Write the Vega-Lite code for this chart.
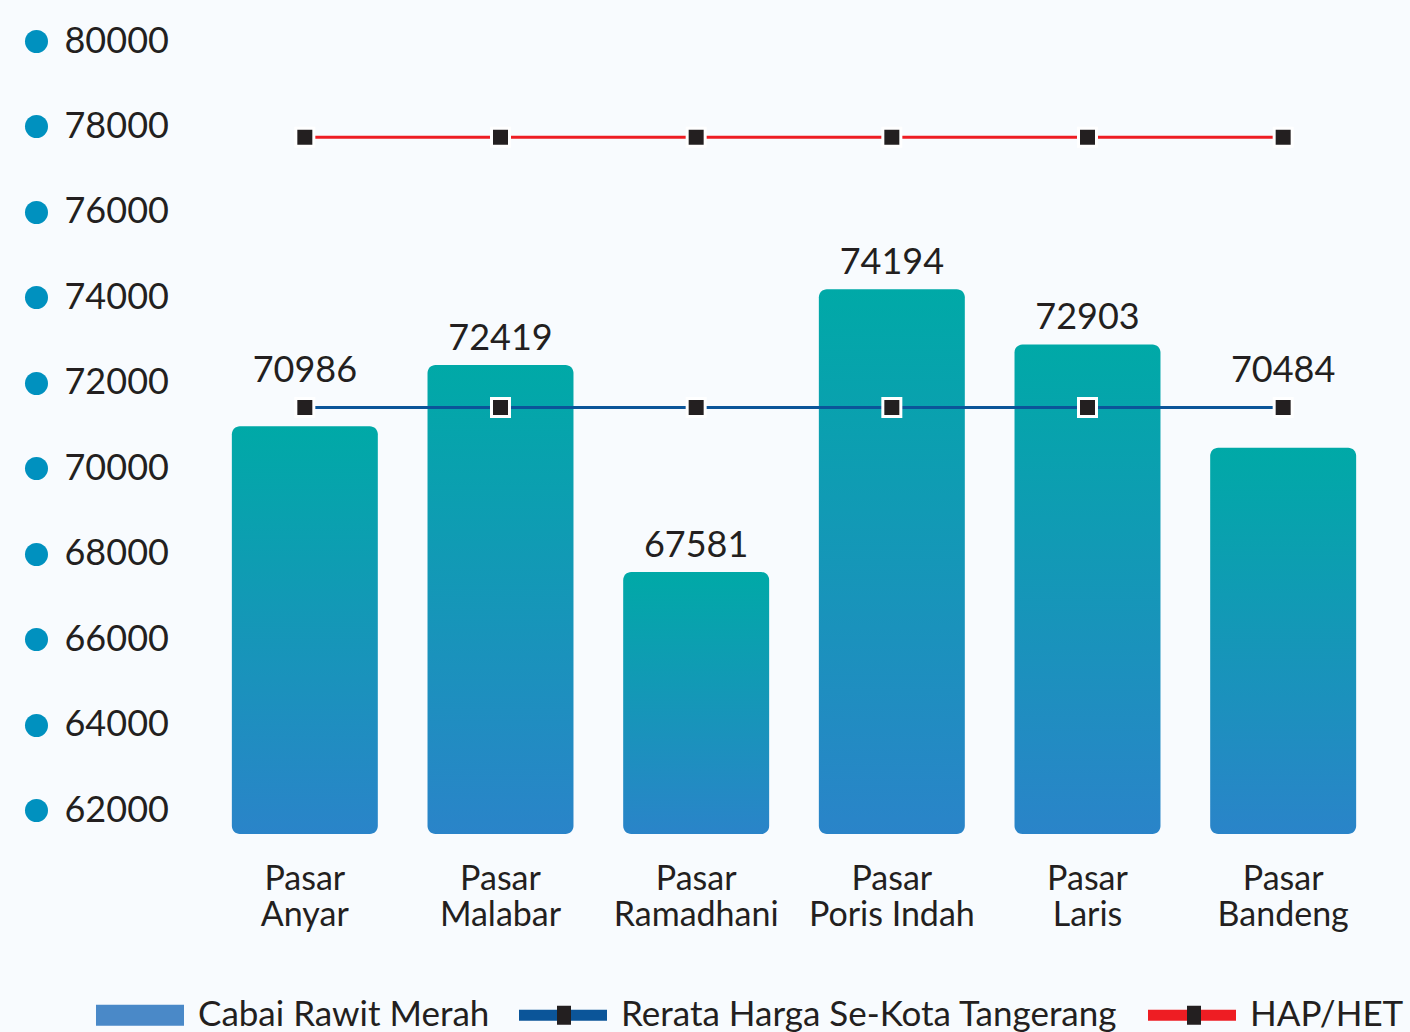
{
  "$schema": "https://vega.github.io/schema/vega-lite/v6.json",
  "width": 1174,
  "height": 793,
  "autosize": {"type": "none"},
  "padding": {"left": 207, "top": 41, "right": 29, "bottom": 198},
  "background": "#f8fbfe",
  "config": {"view": {"stroke": null}, "font": "Lato"},
  "data": {
    "values": [
      {"pasar": "Pasar Anyar", "harga": 70986, "Rerata Harga Se-Kota Tangerang": 71428, "HAP/HET": 77750},
      {"pasar": "Pasar Malabar", "harga": 72419, "Rerata Harga Se-Kota Tangerang": 71428, "HAP/HET": 77750},
      {"pasar": "Pasar Ramadhani", "harga": 67581, "Rerata Harga Se-Kota Tangerang": 71428, "HAP/HET": 77750},
      {"pasar": "Pasar Poris Indah", "harga": 74194, "Rerata Harga Se-Kota Tangerang": 71428, "HAP/HET": 77750},
      {"pasar": "Pasar Laris", "harga": 72903, "Rerata Harga Se-Kota Tangerang": 71428, "HAP/HET": 77750},
      {"pasar": "Pasar Bandeng", "harga": 70484, "Rerata Harga Se-Kota Tangerang": 71428, "HAP/HET": 77750}
    ]
  },
  "encoding": {
    "x": {
      "field": "pasar",
      "type": "nominal",
      "sort": null,
      "scale": {"paddingInner": 0.254, "paddingOuter": 0.127},
      "axis": {
        "title": null,
        "domain": false,
        "ticks": false,
        "labelAngle": 0,
        "labelFont": "Lato",
        "labelFontSize": 34,
        "labelColor": "#231f20",
        "labelLineHeight": 36,
        "labelPadding": 28,
        "labelBaseline": "top",
        "labelExpr": "[slice(datum.label, 0, 5), slice(datum.label, 6)]"
      }
    }
  },
  "layer": [
    {
      "mark": {
        "type": "bar",
        "cornerRadius": 8,
        "color": {
          "gradient": "linear",
          "x1": 0, "y1": 0, "x2": 0, "y2": 1,
          "stops": [
            {"offset": 0, "color": "#00a9a7"},
            {"offset": 1, "color": "#2a84c9"}
          ]
        }
      },
      "encoding": {
        "y": {
          "field": "harga",
          "type": "quantitative",
          "title": null,
          "scale": {"domain": [61450, 80000], "nice": false, "zero": false},
          "axis": {"title": null, "orient": "left", "offset": 171, "domain": false, "grid": false, "values": [62000, 64000, 66000, 68000, 70000, 72000, 74000, 76000, 78000, 80000], "format": "d", "tickSize": 0.01, "tickWidth": 23, "tickCap": "round", "tickColor": "#0091bf", "labelAlign": "left", "labelPadding": -28, "labelFont": "Lato", "labelFontSize": 36, "labelColor": "#231f20", "labelBaseline": "middle", "labelFlush": false}
        },
        "y2": {"datum": 61450}
      }
    },
    {
      "transform": [
        {"calculate": "(datum.harga < datum['Rerata Harga Se-Kota Tangerang'] && datum.harga > datum['Rerata Harga Se-Kota Tangerang'] - 2000) ? datum['Rerata Harga Se-Kota Tangerang'] + 250 : datum.harga", "as": "posLabel"}
      ],
      "mark": {"type": "text", "dy": -15, "fontSize": 36, "color": "#231f20", "baseline": "alphabetic", "font": "Lato"},
      "encoding": {
        "y": {
          "field": "posLabel",
          "type": "quantitative",
          "title": null,
          "scale": {"domain": [61450, 80000], "nice": false, "zero": false},
          "axis": {"title": null, "orient": "left", "offset": 171, "domain": false, "grid": false, "values": [62000, 64000, 66000, 68000, 70000, 72000, 74000, 76000, 78000, 80000], "format": "d", "tickSize": 0.01, "tickWidth": 23, "tickCap": "round", "tickColor": "#0091bf", "labelAlign": "left", "labelPadding": -28, "labelFont": "Lato", "labelFontSize": 36, "labelColor": "#231f20", "labelBaseline": "middle", "labelFlush": false}
        },
        "text": {"field": "harga", "type": "quantitative", "format": "d"}
      }
    },
    {
      "transform": [
        {"fold": ["Rerata Harga Se-Kota Tangerang", "HAP/HET"], "as": ["series", "val"]}
      ],
      "mark": {"type": "line", "strokeWidth": 3},
      "encoding": {
        "y": {
          "field": "val",
          "type": "quantitative",
          "title": null,
          "scale": {"domain": [61450, 80000], "nice": false, "zero": false},
          "axis": {"title": null, "orient": "left", "offset": 171, "domain": false, "grid": false, "values": [62000, 64000, 66000, 68000, 70000, 72000, 74000, 76000, 78000, 80000], "format": "d", "tickSize": 0.01, "tickWidth": 23, "tickCap": "round", "tickColor": "#0091bf", "labelAlign": "left", "labelPadding": -28, "labelFont": "Lato", "labelFontSize": 36, "labelColor": "#231f20", "labelBaseline": "middle", "labelFlush": false}
        },
        "color": {
          "field": "series",
          "type": "nominal",
          "scale": {
            "domain": ["Cabai Rawit Merah", "Rerata Harga Se-Kota Tangerang", "HAP/HET"],
            "range": ["#4a89c8", "#0b5599", "#ee1d23"]
          },
          "legend": {
            "orient": "none",
            "legendX": -116.5,
            "legendY": 924.5,
            "direction": "horizontal",
            "title": null,
            "padding": 0,
            "symbolType": "M-1,0H1",
            "symbolSize": 7744,
            "symbolStrokeWidth": 11,
            "labelFont": "Lato",
            "labelFontSize": 35,
            "labelColor": "#231f20",
            "labelOffset": 8.5,
            "labelLimit": 1000,
            "columnPadding": 7
          }
        }
      }
    },
    {
      "transform": [
        {"fold": ["Rerata Harga Se-Kota Tangerang", "HAP/HET"], "as": ["series", "val"]}
      ],
      "mark": {"type": "point", "shape": "square", "filled": true, "fill": "#231f20", "stroke": "#ffffff", "strokeWidth": 3, "size": 324, "opacity": 1},
      "encoding": {
        "y": {
          "field": "val",
          "type": "quantitative",
          "title": null,
          "scale": {"domain": [61450, 80000], "nice": false, "zero": false},
          "axis": {"title": null, "orient": "left", "offset": 171, "domain": false, "grid": false, "values": [62000, 64000, 66000, 68000, 70000, 72000, 74000, 76000, 78000, 80000], "format": "d", "tickSize": 0.01, "tickWidth": 23, "tickCap": "round", "tickColor": "#0091bf", "labelAlign": "left", "labelPadding": -28, "labelFont": "Lato", "labelFontSize": 36, "labelColor": "#231f20", "labelBaseline": "middle", "labelFlush": false}
        }
      }
    },
    {
      "transform": [
        {"fold": ["Rerata Harga Se-Kota Tangerang", "HAP/HET"], "as": ["series", "val"]},
        {"calculate": "datum.series + ' '", "as": "series2"}
      ],
      "mark": {"type": "point", "filled": true, "opacity": 0},
      "encoding": {
        "y": {
          "field": "val",
          "type": "quantitative",
          "title": null,
          "scale": {"domain": [61450, 80000], "nice": false, "zero": false},
          "axis": {"title": null, "orient": "left", "offset": 171, "domain": false, "grid": false, "values": [62000, 64000, 66000, 68000, 70000, 72000, 74000, 76000, 78000, 80000], "format": "d", "tickSize": 0.01, "tickWidth": 23, "tickCap": "round", "tickColor": "#0091bf", "labelAlign": "left", "labelPadding": -28, "labelFont": "Lato", "labelFontSize": 36, "labelColor": "#231f20", "labelBaseline": "middle", "labelFlush": false}
        },
        "fill": {
          "field": "series2",
          "type": "nominal",
          "scale": {
            "domain": ["Cabai Rawit Merah ", "Rerata Harga Se-Kota Tangerang ", "HAP/HET "],
            "range": ["#4a89c8", "#231f20", "#231f20"]
          },
          "legend": {
            "orient": "none",
            "legendX": -116.5,
            "legendY": 924.5,
            "direction": "horizontal",
            "title": null,
            "padding": 0,
            "symbolSize": 9801,
            "symbolStrokeWidth": 0,
            "symbolStrokeColor": "transparent",
            "symbolOpacity": 1,
            "labelFont": "Lato",
            "labelFontSize": 35,
            "labelColor": "transparent",
            "labelOffset": 26.5,
            "labelLimit": 1000,
            "columnPadding": 7,
            "labelExpr": "datum.value === 'HAP/HET ' ? '' : trim(datum.label)"
          }
        },
        "shape": {
          "field": "series2",
          "type": "nominal",
          "scale": {
            "domain": ["Cabai Rawit Merah ", "Rerata Harga Se-Kota Tangerang ", "HAP/HET "],
            "range": ["M-0.889,-0.212H0.889V0.212H-0.889Z", "M-0.141,-0.192H0.141V0.192H-0.141Z", "M-0.141,-0.192H0.141V0.192H-0.141Z"]
          },
          "legend": {
            "orient": "none",
            "legendX": -116.5,
            "legendY": 924.5,
            "direction": "horizontal",
            "title": null,
            "padding": 0,
            "symbolSize": 9801,
            "symbolStrokeWidth": 0,
            "symbolStrokeColor": "transparent",
            "symbolOpacity": 1,
            "labelFont": "Lato",
            "labelFontSize": 35,
            "labelColor": "transparent",
            "labelOffset": 26.5,
            "labelLimit": 1000,
            "columnPadding": 7,
            "labelExpr": "datum.value === 'HAP/HET ' ? '' : trim(datum.label)"
          }
        }
      }
    }
  ]
}
